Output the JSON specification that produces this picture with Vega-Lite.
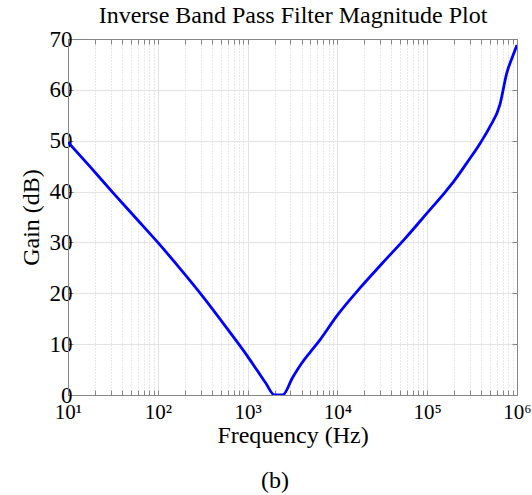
{
  "$schema": "https://vega.github.io/schema/vega-lite/v6.json",
  "autosize": "none",
  "padding": {"left": 68, "top": 39, "right": 15, "bottom": 100},
  "width": 449,
  "height": 356,
  "background": "white",
  "config": {
    "font": "Liberation Serif",
    "view": {"stroke": null},
    "axis": {
      "labelFont": "Liberation Serif",
      "titleFont": "Liberation Serif",
      "labelFontSize": 23,
      "titleFontSize": 24,
      "titleFontWeight": "normal",
      "labelColor": "black",
      "titleColor": "black",
      "domainColor": "#858585",
      "tickColor": "#858585",
      "gridColor": "#e3e3e3",
      "gridWidth": 1
    }
  },
  "title": {
    "text": "(b)",
    "orient": "bottom",
    "frame": "bounds",
    "anchor": "middle",
    "font": "Liberation Serif",
    "fontSize": 24,
    "fontWeight": "normal",
    "color": "black",
    "offset": 22
  },
  "data": {
    "values": [
      {"f": 10, "g": 49.7},
      {"f": 17.8, "g": 44.8},
      {"f": 31.6, "g": 39.8},
      {"f": 56.2, "g": 34.9},
      {"f": 100, "g": 30.0},
      {"f": 178, "g": 24.8},
      {"f": 316, "g": 19.4},
      {"f": 562, "g": 13.6},
      {"f": 1000, "g": 7.6},
      {"f": 1259, "g": 5.0},
      {"f": 1585, "g": 2.4},
      {"f": 1995, "g": 0.0},
      {"f": 2455, "g": 0.0},
      {"f": 3162, "g": 3.4},
      {"f": 3981, "g": 6.2},
      {"f": 5012, "g": 8.5},
      {"f": 6310, "g": 10.7},
      {"f": 10000, "g": 15.7},
      {"f": 17783, "g": 21.0},
      {"f": 31623, "g": 25.9},
      {"f": 56234, "g": 30.7},
      {"f": 100000, "g": 35.8},
      {"f": 158489, "g": 39.9},
      {"f": 199526, "g": 42.1},
      {"f": 275423, "g": 45.6},
      {"f": 389045, "g": 49.5},
      {"f": 501187, "g": 52.8},
      {"f": 645654, "g": 57.1},
      {"f": 769130, "g": 63.3},
      {"f": 891251, "g": 66.5},
      {"f": 1000000, "g": 68.8}
    ]
  },
  "layer": [
    {
      "mark": {"type": "line", "color": "#0000ff", "strokeWidth": 2.8, "clip": true, "interpolate": "monotone"},
      "encoding": {
        "x": {
          "field": "f",
          "type": "quantitative",
          "scale": {"type": "log", "domain": [10, 1000000], "nice": false},
          "axis": {
            "orient": "bottom",
            "title": "Frequency (Hz)",
            "titlePadding": 1,
            "values": [10,20,30,40,50,60,70,80,90,100,200,300,400,500,600,700,800,900,1000,2000,3000,4000,5000,6000,7000,8000,9000,10000,20000,30000,40000,50000,60000,70000,80000,90000,100000,200000,300000,400000,500000,600000,700000,800000,900000,1000000],
            "labelExpr": "datum.value == 10 ? '10¹' : datum.value == 100 ? '10²' : datum.value == 1000 ? '10³' : datum.value == 10000 ? '10⁴' : datum.value == 100000 ? '10⁵' : datum.value == 1000000 ? '10⁶' : ''",
            "labelFontSize": 21,
            "labelPadding": 11,
            "labelFlush": false,
            "labelOverlap": false,
            "tickSize": -5,
            "grid": true,
            "gridDash": {"condition": {"test": "indexof([10,100,1000,10000,100000,1000000], datum.value) >= 0", "value": []}, "value": [1, 2]},
            "gridColor": {"condition": {"test": "indexof([10,100,1000,10000,100000,1000000], datum.value) >= 0", "value": "#e3e3e3"}, "value": "#d0d0d0"}
          }
        },
        "y": {
          "field": "g",
          "type": "quantitative",
          "scale": {"domain": [0, 70], "nice": false},
          "axis": {
            "orient": "left",
            "title": "Gain (dB)",
            "titlePadding": 6,
            "values": [0,10,20,30,40,50,60,70],
            "labelPadding": 1,
            "tickSize": -5,
            "grid": true
          }
        }
      }
    },
    {
      "mark": {"type": "line", "opacity": 0},
      "encoding": {
        "x": {
          "field": "f",
          "type": "quantitative",
          "scale": {"type": "log", "domain": [10, 1000000], "nice": false},
          "axis": {
            "orient": "top",
            "title": "Inverse Band Pass Filter Magnitude Plot",
            "titlePadding": 11,
            "values": [10,20,30,40,50,60,70,80,90,100,200,300,400,500,600,700,800,900,1000,2000,3000,4000,5000,6000,7000,8000,9000,10000,20000,30000,40000,50000,60000,70000,80000,90000,100000,200000,300000,400000,500000,600000,700000,800000,900000,1000000],
            "labels": false,
            "tickSize": -5,
            "grid": false
          }
        },
        "y": {
          "field": "g",
          "type": "quantitative",
          "scale": {"domain": [0, 70], "nice": false},
          "axis": {
            "orient": "right",
            "title": null,
            "values": [0,10,20,30,40,50,60,70],
            "labels": false,
            "tickSize": -5,
            "grid": false
          }
        }
      }
    }
  ],
  "resolve": {"axis": {"x": "independent", "y": "independent"}}
}
